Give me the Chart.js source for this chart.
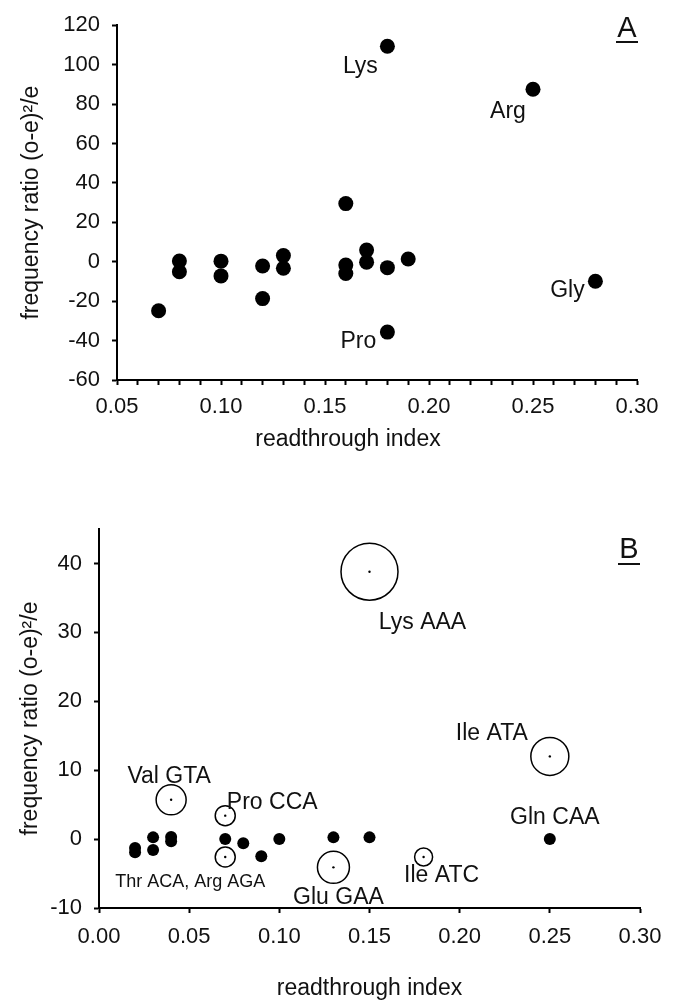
<!DOCTYPE html>
<html>
<head>
<meta charset="utf-8">
<script src="https://cdn.jsdelivr.net/npm/chart.js@4.4.1/dist/chart.umd.min.js"></script>
<style>
  body { margin: 0; background: #fff; }
  #wrap { position: relative; width: 676px; height: 1002px; }
  canvas { position: absolute; left: 0; }
  #chartA { top: 0; }
  #chartB { top: 480px; }
</style>
</head>
<body>
<div id="wrap">
  <canvas id="chartA" width="676" height="470"></canvas>
  <canvas id="chartB" width="676" height="522"></canvas>
</div>
<script>
// ---- dados: painel A ----
const readthroughA = [0.07, 0.08, 0.08, 0.10, 0.10, 0.12, 0.12, 0.13, 0.13, 0.16, 0.16, 0.16, 0.17, 0.17, 0.18, 0.18, 0.18, 0.19, 0.25, 0.28];
const freqA        = [-24.9, 0.4, -5.1, 0.3, -7.2, -2.2, -18.7, 3.1, -3.3, 29.5, -1.7, -6.0, 5.9, -0.2, 109.3, -3.0, -35.7, 1.4, 87.5, -9.9];
const labelTextA = ['Lys', 'Arg', 'Gly', 'Pro'];
const labelIdxA  = [14, 18, 19, 16];
const xTicksA = [0.05, 0.10, 0.15, 0.20, 0.25, 0.30];
const yTicksA = [-60, -40, -20, 0, 20, 40, 60, 80, 100, 120];

// ---- dados: painel B ----
// pontos cheios
const readthroughB = [0.02, 0.02, 0.03, 0.03, 0.04, 0.04, 0.07, 0.08, 0.09, 0.10, 0.13, 0.15, 0.25];
const freqB        = [-1.3, -1.9, 0.25, -1.6, 0.3, -0.3, 0, -0.6, -2.5, 0, 0.25, 0.25, 0];
// circulos abertos (codons marcados), r = tamanho do circulo
const codonX    = [0.15, 0.25, 0.04, 0.07, 0.07, 0.13, 0.18];
const codonY    = [38.8, 12.0, 5.7, 3.4, -2.6, -4.1, -2.6];
const codonSize = [28.5, 19, 15, 10, 10, 16, 9];
const labelTextB = ['Lys AAA', 'Ile ATA', 'Val GTA', 'Pro CCA', 'Glu GAA', 'Ile ATC', 'Thr ACA, Arg AGA'];
const labelIdxB  = [0, 1, 2, 3, 5, 6, 4];
const glnLabel = 'Gln CAA';   // ponto cheio em 0.25
const xTicksB = [0, 0.05, 0.10, 0.15, 0.20, 0.25, 0.30];
const yTicksB = [-10, 0, 10, 20, 30, 40];

//=============================================================================
const FONT = "'Liberation Sans', Arial, sans-serif";
const INK = '#111';
const TITULO_X = 'readthrough index';

// deslocamentos dos rotulos em px (estilo)
const offsA = [[-27, 20], [-25, 22], [-28, 9], [-29, 10]];
const offsB = [[53, 51], [-58, -23], [-2, -23], [47, -13], [5, 30], [18, 19], [-35, 25]];

// plugin que escreve os rotulos dos pontos e a letra do painel
const notesPlugin = {
  id: 'notes',
  afterDatasetsDraw(chart, args, opts) {
    const ctx = chart.ctx;
    const sx = chart.scales.x, sy = chart.scales.y;
    ctx.save();
    ctx.fillStyle = INK;
    ctx.textAlign = 'center';
    ctx.textBaseline = 'middle';
    opts.items.forEach(it => {
      ctx.font = it.font;
      ctx.fillText(it.text, sx.getPixelForValue(it.x) + it.dx, sy.getPixelForValue(it.y) + it.dy);
    });
    // titulo do eixo x deslocado (so no painel A)
    if (opts.xTitle) {
      ctx.font = '23px ' + FONT;
      ctx.fillText(opts.xTitle.text, opts.xTitle.x, opts.xTitle.y);
    }
    // letra do painel, sublinhada
    ctx.font = '29px ' + FONT;
    ctx.textBaseline = 'alphabetic';
    ctx.fillText(opts.letter, opts.lx, opts.ly);
    ctx.fillRect(opts.lx - 11, opts.uy, 22, 2);
    ctx.restore();
  }
};

function eixoX(min, max, ticks, minor, height, pad, titlePad, showTitle) {
  return {
    type: 'linear', min: min, max: max,
    afterBuildTicks: s => {
      let vals = ticks;
      if (minor) {
        vals = [];
        for (let i = 0; i < ticks.length - 1; i++) {
          for (let k = 0; k < 5; k++) vals.push(ticks[i] + (ticks[i + 1] - ticks[i]) * k / 5);
        }
        vals.push(ticks[ticks.length - 1]);
      }
      s.ticks = vals.map(v => ({ value: v }));
    },
    afterFit: s => { s.height = height; },
    grid: { drawOnChartArea: false, drawTicks: true, tickLength: 5, tickColor: '#000', tickWidth: 2 },
    border: { display: true, color: '#000', width: 2 },
    ticks: {
      autoSkip: false, maxRotation: 0, padding: pad, color: INK,
      font: { family: FONT, size: 22 },
      callback: v => {
        const m = v * 20;
        return Math.abs(m - Math.round(m)) < 1e-6 ? v.toFixed(2) : '';
      }
    },
    title: { display: showTitle, text: TITULO_X, color: INK, font: { family: FONT, size: 23 }, padding: { top: 0, bottom: titlePad } }
  };
}

function eixoY(min, max, ticks, width, titlePad) {
  return {
    type: 'linear', min: min, max: max,
    afterBuildTicks: s => { s.ticks = ticks.map(v => ({ value: v })); },
    afterFit: s => { s.width = width; },
    grid: { drawOnChartArea: false, drawTicks: true, tickLength: 5, tickColor: '#000', tickWidth: 2 },
    border: { display: true, color: '#000', width: 2 },
    ticks: { padding: 12, color: INK, font: { family: FONT, size: 22 }, callback: v => String(v) },
    title: { display: true, text: 'frequency ratio (o-e)²/e', color: INK, font: { family: FONT, size: 23 }, padding: { top: titlePad, bottom: 0 } }
  };
}

const baseOpts = {
  responsive: false,
  animation: false,
  events: [],
  plugins: { legend: { display: false }, tooltip: { enabled: false } }
};

// ---- grafico A ----
const pontosA = readthroughA.map((x, i) => ({ x: x, y: freqA[i] }));
const notasA = labelTextA.map((t, i) => ({
  text: t, x: readthroughA[labelIdxA[i]], y: freqA[labelIdxA[i]],
  dx: offsA[i][0], dy: offsA[i][1], font: '23px ' + FONT
}));

new Chart(document.getElementById('chartA').getContext('2d'), {
  type: 'scatter',
  data: {
    datasets: [{
      data: pontosA,
      pointRadius: 7.5,
      pointBackgroundColor: '#000',
      pointBorderWidth: 0
    }]
  },
  options: Object.assign({}, baseOpts, {
    layout: { padding: { left: 0, top: 15, right: 39, bottom: 0 } },
    scales: {
      x: eixoX(0.05, 0.30, xTicksA, true, 90, 9, 13, false),
      y: eixoY(-60, 120, yTicksA, 117, 18)
    },
    plugins: Object.assign({}, baseOpts.plugins, {
      notes: {
        items: notasA, letter: 'A', lx: 627, ly: 37, uy: 41,
        xTitle: { text: TITULO_X, x: 348, y: 440 }
      }
    })
  }),
  plugins: [notesPlugin]
});

// ---- grafico B ----
const pontosB = readthroughB.map((x, i) => ({ x: x, y: freqB[i] }));
const circulosB = codonX.map((x, i) => ({ x: x, y: codonY[i], r: codonSize[i] }));
const centrosB = codonX.map((x, i) => ({ x: x, y: codonY[i] }));
const notasB = labelTextB.map((t, i) => ({
  text: t, x: codonX[labelIdxB[i]], y: codonY[labelIdxB[i]],
  dx: offsB[i][0], dy: offsB[i][1],
  font: (t.indexOf(',') > -1 ? '18px ' : '23px ') + FONT
}));
notasB.push({ text: glnLabel, x: readthroughB[12], y: freqB[12], dx: 5, dy: -21, font: '23px ' + FONT });

new Chart(document.getElementById('chartB').getContext('2d'), {
  type: 'scatter',
  data: {
    datasets: [
      {
        data: pontosB,
        pointRadius: 6,
        pointBackgroundColor: '#000',
        pointBorderWidth: 0
      },
      {
        type: 'bubble',
        data: circulosB,
        backgroundColor: 'rgba(0,0,0,0)',
        borderColor: '#000',
        borderWidth: 1.5
      },
      {
        data: centrosB,
        pointRadius: 1.2,
        pointBackgroundColor: '#000',
        pointBorderWidth: 0
      }
    ]
  },
  options: Object.assign({}, baseOpts, {
    layout: { padding: { left: 0, top: 49, right: 36, bottom: 0 } },
    scales: {
      x: eixoX(0, 0.30, xTicksB, false, 94, 11, 0, true),
      y: eixoY(-10, 45, yTicksB, 99, 17)
    },
    plugins: Object.assign({}, baseOpts.plugins, {
      notes: { items: notasB, letter: 'B', lx: 629, ly: 78, uy: 83 }
    })
  }),
  plugins: [notesPlugin]
});
</script>
</body>
</html>
